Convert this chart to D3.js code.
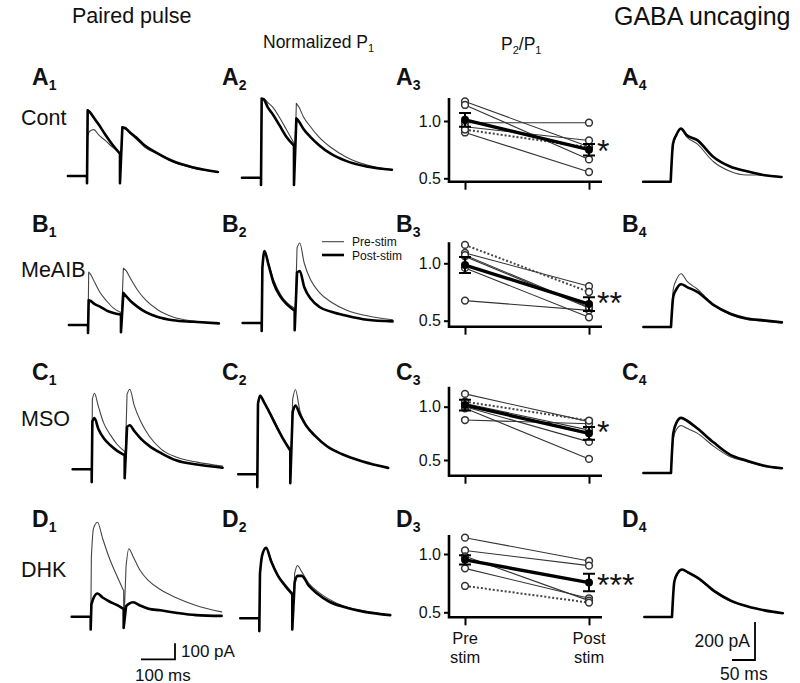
<!DOCTYPE html>
<html><head><meta charset="utf-8">
<script src="https://cdn.jsdelivr.net/npm/d3@7"></script>
<style>
body{margin:0;background:#fff}
svg{display:block}
text{font-family:"Liberation Sans",Arial,Helvetica,sans-serif;fill:#111}
</style>
</head><body>
<svg id="fig" width="800" height="683"></svg>
<script>
// ---------------- DATA ----------------
const rowIds = ["A", "B", "C", "D"];
const rowLabels = ["Cont", "MeAIB", "MSO", "DHK"];
const columnTitles = ["Paired pulse", "Normalized P", "P", "GABA uncaging"];

// paired-pulse sample times (ms after first stimulus)
const decay1Times = [2, 8, 20, 35, 55, 75, 95];
const decay2Times = [104, 112, 125, 145, 170, 205, 250, 310, 385];
const stim2Time = 97;
const baselineStartTime = -56;

// column 1: raw paired-pulse currents (pA) — pre-stim (thin) and post-stim (thick)
const pairedPre = [
  [250, 280, 290, 255, 220, 180, 145, 295, 295, 270, 230, 180, 140, 90, 50, 25],
  [330, 315, 265, 205, 150, 105, 80, 355, 340, 290, 220, 155, 95, 50, 25, 10],
  [440, 475, 390, 290, 215, 155, 115, 470, 500, 400, 295, 205, 125, 75, 45, 20],
  [375, 550, 590, 490, 365, 265, 170, 315, 425, 375, 290, 225, 170, 120, 70, 30]
];
const pairedPost = [
  [410, 400, 365, 320, 255, 195, 145, 305, 300, 275, 240, 190, 145, 95, 55, 25],
  [155, 150, 130, 115, 90, 75, 65, 200, 180, 150, 115, 80, 50, 30, 20, 10],
  [300, 320, 250, 195, 150, 115, 90, 265, 275, 240, 190, 145, 100, 55, 30, 10],
  [75, 115, 145, 120, 95, 75, 50, 65, 80, 90, 70, 50, 40, 25, 10, 5]
];
// column 2: normalized to P1
const normPre = [
  [495, 495, 470, 440, 375, 300, 225, 465, 440, 380, 320, 255, 190, 130, 80, 50],
  [345, 455, 375, 270, 180, 125, 95, 470, 500, 375, 265, 190, 130, 80, 45, 20],
  [440, 495, 455, 395, 315, 230, 165, 470, 530, 400, 305, 240, 175, 125, 80, 40],
  [280, 390, 440, 365, 270, 215, 165, 280, 330, 290, 220, 170, 120, 75, 45, 20]
];
const normPost = [
  [495, 490, 440, 395, 325, 255, 205, 370, 350, 305, 255, 205, 150, 105, 70, 50],
  [345, 450, 365, 250, 165, 115, 80, 315, 325, 225, 150, 100, 70, 45, 20, 10],
  [440, 490, 450, 390, 305, 225, 155, 390, 430, 375, 300, 240, 175, 125, 80, 40],
  [280, 390, 440, 355, 265, 205, 155, 225, 265, 265, 205, 155, 105, 70, 40, 20]
];
// stimulus artifact depth (pA below baseline)
const artifact1 = [45, 50, 80, 80];
const artifact2 = [45, 45, 55, 70];

// column 4: GABA uncaging currents (pA)
const uncagingTimes = [0, 5, 12, 22, 35, 57, 93, 129, 165, 201, 241];
const uncagingStartTime = -60;
const uncagingPre = [
  [0, 190, 240, 275, 235, 200, 105, 55, 35, 35, 25],
  [0, 200, 250, 280, 240, 200, 115, 65, 40, 30, 20],
  [0, 180, 230, 250, 235, 210, 140, 85, 60, 35, 25],
  [0, 180, 225, 250, 230, 200, 130, 80, 55, 35, 20]
];
const uncagingPost = [
  [0, 200, 245, 280, 245, 220, 130, 80, 55, 35, 25],
  [0, 160, 200, 225, 210, 185, 115, 70, 45, 35, 25],
  [0, 210, 265, 290, 275, 235, 160, 95, 65, 40, 25],
  [0, 185, 230, 250, 235, 205, 135, 85, 55, 35, 20]
];

// column 3: P2/P1 ratios
const conditions = ["Pre", "Post"];
const ratioPre = [
  [1.17, 1.14, 0.985, 0.95, 0.90],
  [1.09, 1.06, 0.96, 0.675, 1.07],
  [1.12, 0.985, 0.875, 1.00, 1.03],
  [1.14, 1.03, 0.877, 0.98]
];
const ratioPost = [
  [0.775, 0.665, 0.985, 0.83, 0.555],
  [0.80, 0.61, 0.53, 0.59, 0.62],
  [0.86, 0.51, 0.84, 0.67, 0.78],
  [0.94, 0.90, 0.62, 0.60]
];
const dottedPre = [0.925, 1.16, 1.047, 0.726];
const dottedPost = [0.77, 0.75, 0.87, 0.583];
const meanPre = [1.01, 0.985, 1.015, 0.95];
const semPre = [0.06, 0.07, 0.05, 0.04];
const meanPost = [0.75, 0.645, 0.75, 0.755];
const semPost = [0.05, 0.06, 0.06, 0.075];
const ratioTicks = [0.5, 1.0];
const stars = ["*", "**", "*", "***"];
const legendLabels = ["Pre-stim", "Post-stim"];
const scaleBar1 = {pA: 100, ms: 100};
const scaleBar4 = {pA: 200, ms: 50};

// ---------------- LAYOUT ----------------
const svg = d3.select("#fig");
const PX_PER_MS_PP = 0.34, PX_PER_PA_PP = 0.16;
const PX_PER_MS_UN = 0.46, PX_PER_PA_UN = 0.19;
const lay = {
  base1: [176, 325, 469.3, 616.7],
  stim1: [87, 88, 91.7, 90.7],
  base2: [177.7, 323, 474.3, 618.3],
  stim2: [261, 261.7, 257.3, 259.3],
  base4: [181.7, 327, 473, 617],
  onset4: [670.7, 671, 671, 672],
  labelY: [85, 232, 380, 527],
  rowLabelY: [125, 277, 425.7, 577.3],
  scatter: [
    {y10: 121, y05: 178.3, top: 98, bot: 181.7, starY: 162},
    {y10: 263.3, y05: 320.7, top: 242.3, bot: 326.7, starY: 314},
    {y10: 406.7, y05: 460, top: 386.7, bot: 475.7, starY: 443},
    {y10: 554, y05: 612.3, top: 535, bot: 617.3, starY: 596}
  ]
};

function txt(x, y, s, size, opts = {}) {
  const t = svg.append("text").attr("x", x).attr("y", y)
    .attr("font-size", size).text(s);
  if (opts.bold) t.attr("font-weight", "bold");
  if (opts.anchor) t.attr("text-anchor", opts.anchor);
  return t;
}
function sub(t, s, size, dy) {
  t.append("tspan").attr("font-size", size).attr("dy", dy).text(s);
  return t;
}

// titles
txt(72, 23, columnTitles[0], 21.5);
sub(txt(263, 48, columnTitles[1], 17.5), "1", 11, 4);
{
  const t = txt(501, 50, columnTitles[2], 17.5);
  t.append("tspan").attr("font-size", 11).attr("dy", 4).text("2");
  t.append("tspan").attr("dy", -4).text("/P");
  t.append("tspan").attr("font-size", 11).attr("dy", 4).text("1");
}
txt(614, 25, columnTitles[3], 25);

const lineLin = (xS, yS) => d3.line().x(d => xS(d[0])).y(d => yS(d[1]));
const lineMono = (xS, yS) => d3.line().x(d => xS(d[0])).y(d => yS(d[1])).curve(d3.curveMonotoneX);

function pairedPath(vals, xS, yS, dip1, dip2) {
  const n1 = decay1Times.length;
  const d1 = decay1Times.map((t, i) => [t, vals[i]]);
  const d2 = decay2Times.map((t, i) => [t, vals[n1 + i]]);
  const lin = lineLin(xS, yS), mono = lineMono(xS, yS);
  const last = d1[n1 - 1];
  return lin([[baselineStartTime, 0], [0, 0], [0, -dip1], d1[0]]) +
    mono(d1) +
    lin([last, [stim2Time, last[1] * 0.97], [stim2Time, -dip2], d2[0]]) +
    mono(d2);
}
function uncagingPath(vals, xS, yS) {
  const pts = uncagingTimes.map((t, i) => [t, vals[i]]);
  return lineLin(xS, yS)([[uncagingStartTime, 0], [0, 0]]) + lineMono(xS, yS)(pts);
}
function drawTrace(d, thick) {
  svg.append("path").attr("d", d).attr("fill", "none")
    .attr("stroke", thick ? "#000" : "#444")
    .attr("stroke-width", thick ? 2.6 : 1.1)
    .attr("stroke-linejoin", "round").attr("stroke-linecap", "round");
}

rowIds.forEach((id, r) => {
  // panel labels
  const cols = [32, 222, 396, 622];
  cols.forEach((x, c) => sub(txt(x, lay.labelY[r], id, 23, {bold: true}), String(c + 1), 14, 5));
  txt(21, lay.rowLabelY[r], rowLabels[r], 21.5);

  // column 1
  const x1 = d3.scaleLinear().domain([0, 100]).range([lay.stim1[r], lay.stim1[r] + 100 * PX_PER_MS_PP]);
  const y1 = d3.scaleLinear().domain([0, 100]).range([lay.base1[r], lay.base1[r] - 100 * PX_PER_PA_PP]);
  drawTrace(pairedPath(pairedPre[r], x1, y1, artifact1[r], artifact2[r]), false);
  drawTrace(pairedPath(pairedPost[r], x1, y1, artifact1[r], artifact2[r]), true);

  // column 2
  const x2 = d3.scaleLinear().domain([0, 100]).range([lay.stim2[r], lay.stim2[r] + 100 * PX_PER_MS_PP]);
  const y2 = d3.scaleLinear().domain([0, 100]).range([lay.base2[r], lay.base2[r] - 100 * PX_PER_PA_PP]);
  drawTrace(pairedPath(normPre[r], x2, y2, artifact1[r], artifact2[r]), false);
  drawTrace(pairedPath(normPost[r], x2, y2, artifact1[r], artifact2[r]), true);

  // column 4
  const x4 = d3.scaleLinear().domain([0, 100]).range([lay.onset4[r], lay.onset4[r] + 100 * PX_PER_MS_UN]);
  const y4 = d3.scaleLinear().domain([0, 100]).range([lay.base4[r], lay.base4[r] - 100 * PX_PER_PA_UN]);
  drawTrace(uncagingPath(uncagingPre[r], x4, y4), false);
  drawTrace(uncagingPath(uncagingPost[r], x4, y4), true);

  // column 3 scatter
  const s = lay.scatter[r];
  const yS = d3.scaleLinear().domain([0.5, 1.0]).range([s.y05, s.y10]);
  const xS = d3.scalePoint().domain(conditions).range([465, 589]);
  const g = svg.append("g");
  const yAx = g.append("g").attr("transform", "translate(449,0)")
    .call(d3.axisLeft(yS).tickValues(ratioTicks).tickFormat(d3.format(".1f")).tickSize(5).tickPadding(3));
  yAx.select(".domain").remove();
  yAx.selectAll("line").attr("stroke", "#000").attr("stroke-width", 2);
  yAx.selectAll("text").attr("font-size", 16).attr("font-family", '"Liberation Sans", Arial, sans-serif').attr("fill", "#111");
  const xAx = g.append("g").attr("transform", `translate(0,${s.bot})`)
    .call(d3.axisBottom(xS).tickSize(8).tickFormat(""));
  xAx.select(".domain").remove();
  xAx.selectAll("line").attr("stroke", "#000").attr("stroke-width", 2);
  g.append("path").attr("d", `M449,${s.top}V${s.bot}H602`).attr("fill", "none")
    .attr("stroke", "#000").attr("stroke-width", 2.6);

  const pairs = ratioPre[r].map((v, i) => [v, ratioPost[r][i]]);
  pairs.forEach(p => {
    g.append("line").attr("x1", xS("Pre")).attr("x2", xS("Post"))
      .attr("y1", yS(p[0])).attr("y2", yS(p[1])).attr("stroke", "#333").attr("stroke-width", 1.1);
  });
  g.append("line").attr("x1", xS("Pre")).attr("x2", xS("Post"))
    .attr("y1", yS(dottedPre[r])).attr("y2", yS(dottedPost[r]))
    .attr("stroke", "#444").attr("stroke-width", 2).attr("stroke-dasharray", "2,2");
  g.append("line").attr("x1", xS("Pre")).attr("x2", xS("Post"))
    .attr("y1", yS(meanPre[r])).attr("y2", yS(meanPost[r]))
    .attr("stroke", "#000").attr("stroke-width", 3.4);
  const circ = [];
  pairs.forEach(p => { circ.push(["Pre", p[0]]); circ.push(["Post", p[1]]); });
  circ.push(["Pre", dottedPre[r]]); circ.push(["Post", dottedPost[r]]);
  g.selectAll(null).data(circ).enter().append("circle")
    .attr("cx", d => xS(d[0])).attr("cy", d => yS(d[1])).attr("r", 3.4)
    .attr("fill", "#fff").attr("stroke", "#333").attr("stroke-width", 1.5);
  [["Pre", meanPre[r], semPre[r]], ["Post", meanPost[r], semPost[r]]].forEach(m => {
    const cx = xS(m[0]);
    g.append("path").attr("d", `M${cx},${yS(m[1] - m[2])}V${yS(m[1] + m[2])}M${cx - 6},${yS(m[1] + m[2])}H${cx + 6}M${cx - 6},${yS(m[1] - m[2])}H${cx + 6}`)
      .attr("stroke", "#000").attr("stroke-width", 2).attr("fill", "none");
    g.append("circle").attr("cx", cx).attr("cy", yS(m[1])).attr("r", 4).attr("fill", "#000");
  });
  txt(597, s.starY, stars[r], 32);

  if (r === 3) {
    [["Pre", xS("Pre")], ["Post", xS("Post")]].forEach(([lab, x]) => {
      txt(x, 644, lab, 16.5, {anchor: "middle"});
      txt(x, 663, "stim", 16.5, {anchor: "middle"});
    });
    // scale bar column 1
    const sbx = 175, sby = 659.3;
    const w = x1(scaleBar1.ms) - x1(0), h = y1(0) - y1(scaleBar1.pA);
    svg.append("path").attr("d", `M${sbx - w},${sby}H${sbx}V${sby - h}`)
      .attr("fill", "none").attr("stroke", "#000").attr("stroke-width", 1.8);
    txt(181, 656.5, scaleBar1.pA + " pA", 17);
    txt(135, 680.5, scaleBar1.ms + " ms", 17);
    // scale bar column 4
    const w4 = x4(scaleBar4.ms) - x4(0), h4 = y4(0) - y4(scaleBar4.pA);
    const bx = 755, by = 660;
    svg.append("path").attr("d", `M${bx - w4},${by}H${bx}V${by - h4}`)
      .attr("fill", "none").attr("stroke", "#000").attr("stroke-width", 1.8);
    txt(750, 647.3, scaleBar4.pA + " pA", 17.5, {anchor: "end"});
    txt(720, 680, scaleBar4.ms + " ms", 17.5);
  }
});

// legend (B2)
svg.append("line").attr("x1", 322).attr("x2", 344).attr("y1", 241.7).attr("y2", 241.7)
  .attr("stroke", "#444").attr("stroke-width", 1.1);
svg.append("line").attr("x1", 322).attr("x2", 344).attr("y1", 255).attr("y2", 255)
  .attr("stroke", "#000").attr("stroke-width", 2.6);
txt(352, 246, legendLabels[0], 12);
txt(352, 259.5, legendLabels[1], 12);
</script>
</body></html>
